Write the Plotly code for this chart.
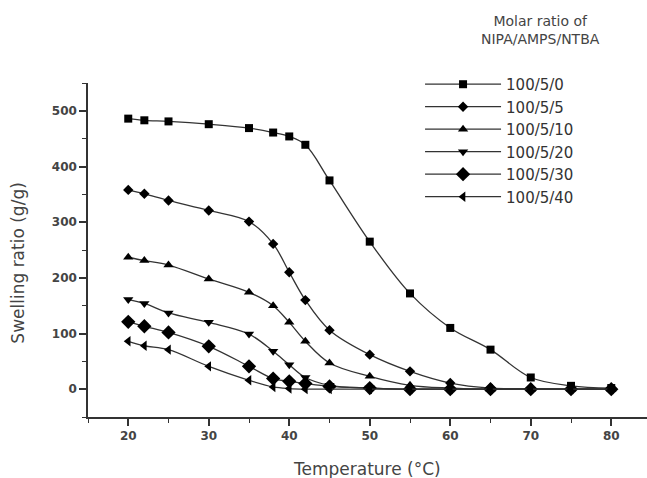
import plotly.graph_objects as go

temperature = [20, 22, 25, 30, 35, 38, 40, 42, 45, 50, 55, 60, 65, 70, 75, 80]

ratio_100_5_0 = [486, 483, 481, 476, 469, 461, 454, 439, 375, 265, 172, 110, 71, 21, 6, 2]
ratio_100_5_5 = [358, 351, 339, 321, 301, 261, 210, 160, 106, 62, 32, 11, 2, 1, 0, 0]
ratio_100_5_10 = [237, 231, 223, 198, 174, 150, 120, 86, 47, 23, 7, 2, 0, 0, 0, 0]
ratio_100_5_20 = [161, 154, 137, 120, 99, 68, 44, 21, 7, 2, 0, 0, 0, 0, 0, 0]
ratio_100_5_30 = [121, 113, 102, 77, 41, 19, 14, 10, 5, 2, 0, 0, 0, 0, 0, 0]
ratio_100_5_40 = [86, 78, 71, 41, 16, 4, 1, 0, 0, 0, 0, 0, 0, 0, 0, 0]

series_names = ["100/5/0", "100/5/5", "100/5/10", "100/5/20", "100/5/30", "100/5/40"]
series_values = [ratio_100_5_0, ratio_100_5_5, ratio_100_5_10,
                 ratio_100_5_20, ratio_100_5_30, ratio_100_5_40]
symbols = ["square", "diamond", "triangle-up", "triangle-down", "diamond", "triangle-left"]
sizes = [8, 8, 9, 9, 11, 9]

y_ticks = [0, 100, 200, 300, 400, 500]
x_ticks = [20, 30, 40, 50, 60, 70, 80]

FONT = "DejaVu Sans"

fig = go.Figure()
for i, (name, vals, sym, sz) in enumerate(zip(series_names, series_values, symbols, sizes)):
    fig.add_trace(go.Scatter(
        x=temperature, y=vals, name=name, mode="lines+markers",
        legendgroup=name,
        line=dict(color="#333333", width=1.3, shape="spline"),
        marker=dict(symbol=sym, size=sz, color="black"),
    ))

fig.update_layout(
    width=647, height=478,
    margin=dict(l=88, r=0, t=83, b=61, autoexpand=False),
    paper_bgcolor="white", plot_bgcolor="white",
    showlegend=True,
    legend=dict(
        x=0.594, y=1.045, xanchor="left", yanchor="top",
        font=dict(family=FONT, size=15, color="#333333"),
        itemwidth=76, tracegroupgap=0, bgcolor="rgba(0,0,0,0)",
    ),
    font=dict(family=FONT),
)

fig.update_xaxes(
    range=[15, 84.44], tickvals=x_ticks, ticks="outside", ticklen=7, tickwidth=1.5,
    tickcolor="#333333", showline=True, linecolor="#333333", linewidth=1.5,
    showgrid=False, zeroline=False,
    tickfont=dict(family=FONT, size=12, color="#444444", weight="bold"),
    minor=dict(dtick=5, tick0=0, ticks="outside", ticklen=4, tickwidth=1.2, tickcolor="#333333"),
)
fig.update_yaxes(
    range=[-50, 550], tickvals=y_ticks, ticks="outside", ticklen=7, tickwidth=1.5,
    tickcolor="#333333", showline=True, linecolor="#333333", linewidth=1.5,
    showgrid=False, zeroline=False,
    tickfont=dict(family=FONT, size=12, color="#444444", weight="bold"),
    minor=dict(dtick=50, tick0=0, ticks="outside", ticklen=4, tickwidth=1.2, tickcolor="#333333"),
)

fig.add_annotation(
    text="Molar ratio of<br>NIPA/AMPS/NTBA", xref="paper", yref="paper",
    x=(540 - 88) / 559, y=1 + (83 - 30) / 333.7, xanchor="center", yanchor="middle",
    showarrow=False, font=dict(family=FONT, size=14, color="#444444"), align="center",
)
fig.add_annotation(
    text="Temperature (°C)", xref="paper", yref="paper",
    x=(367 - 88) / 559, y=-(469 - 416.7) / 333.7, xanchor="center", yanchor="middle",
    showarrow=False, font=dict(family=FONT, size=17, color="#444444"),
)
fig.add_annotation(
    text="Swelling ratio (g/g)", xref="paper", yref="paper", textangle=-90,
    x=-(88 - 18) / 559, y=(416.7 - 263.5) / 333.7, xanchor="center", yanchor="middle",
    showarrow=False, font=dict(family=FONT, size=17, color="#444444"),
)

fig.write_html(
    "out.html",
    config={"displayModeBar": False},
    post_script="document.body.style.margin='0px';document.body.style.padding='0px';",
)
